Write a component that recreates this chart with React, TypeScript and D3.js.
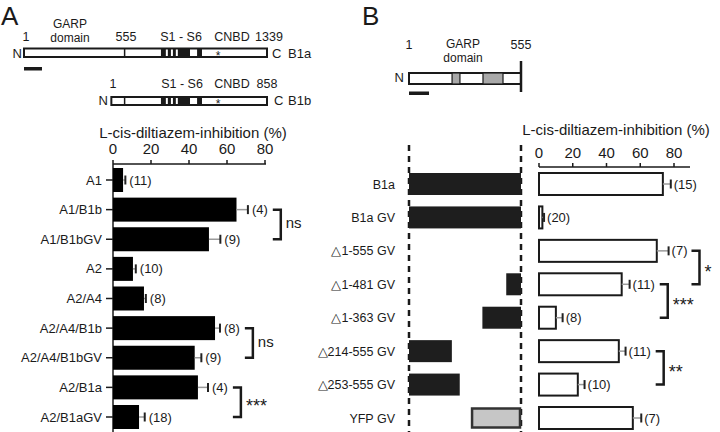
import React from "react";
import * as d3 from "d3";

// ---------- Panel A data ----------
const catsA = ["A1", "A1/B1b", "A1/B1bGV", "A2", "A2/A4", "A2/A4/B1b", "A2/A4/B1bGV", "A2/B1a", "A2/B1aGV"];
const valsA = [5.3, 65, 50.5, 10.5, 16.3, 53.7, 43, 44.7, 13.7];
const errA = [1.2, 6, 6, 1.5, 1, 2.6, 3.5, 5.3, 3];
const nA = [11, 4, 9, 10, 8, 8, 9, 4, 18];
const sigAFrom = ["A1/B1b", "A2/A4/B1b", "A2/B1a"];
const sigATo = ["A1/B1bGV", "A2/A4/B1bGV", "A2/B1aGV"];
const sigALabel = ["ns", "ns", "***"];
const ticks = [0, 20, 40, 60, 80];

// schematic of B1a / B1b (in B1a residue numbers)
const stripeFrom = [755, 793, 821, 848, 954];
const stripeTo = [782, 810, 837, 915, 981];
const b1bOffset = 481;

// ---------- Panel B data ----------
const catsB = ["B1a", "B1a GV", "\u25B31-555 GV", "\u25B31-481 GV", "\u25B31-363 GV", "\u25B3214-555 GV", "\u25B3253-555 GV", "YFP GV"];
const keptFrom = [1, 1, 0, 482, 364, 1, 1, 308];
const keptTo = [555, 555, 0, 555, 555, 213, 252, 555];
const keptKind = ["res", "res", "none", "res", "res", "res", "res", "yfp"];
const valsB = [73.4, 2, 69.8, 49, 10, 47.3, 23, 55.6];
const errB = [4.7, 1, 7, 4.7, 4, 4, 4, 5];
const nB = [15, 20, 7, 11, 8, 11, 10, 7];
const sigBFrom = ["\u25B31-555 GV", "\u25B31-481 GV", "\u25B3214-555 GV"];
const sigBTo = ["\u25B31-481 GV", "\u25B31-363 GV", "\u25B3253-555 GV"];
const sigBLabel = ["*", "***", "**"];
const garpFrom = [214, 367];
const garpTo = [253, 466];

const FONT = "'Liberation Sans', Arial, Helvetica, sans-serif";
const INK = "#1a1a1a";

function countWidth(s: string, size: number) {
  let w = 0;
  for (const ch of s) w += ch === "(" || ch === ")" ? 0.333 : 0.556;
  return w * size;
}

function ErrBar({ x0, x1, y }: { x0: number; x1: number; y: number }) {
  return (
    <g>
      <line x1={x0} x2={x1} y1={y} y2={y} stroke="#9a9a9a" strokeWidth={1.5} />
      <line x1={x1} x2={x1} y1={y - 4.5} y2={y + 4.5} stroke="#222" strokeWidth={2} />
    </g>
  );
}

function Bracket({ x, y0, y1, label }: { x: number; y0: number; y1: number; label: string }) {
  const arm = 8;
  const mid = (y0 + y1) / 2;
  const isStar = label.includes("*");
  return (
    <g>
      <path d={`M${x},${y0}H${x + arm}V${y1}H${x}`} fill="none" stroke={INK} strokeWidth={2.5} />
      <text x={x + arm + 5} y={isStar ? mid + 10 : mid + 4} fontSize={isStar ? 18 : 15} fill={INK} fontFamily={FONT}>
        {label}
      </text>
    </g>
  );
}

export default function App() {
  // ----- Panel A -----
  const xA = d3.scaleLinear().domain([0, 80]).range([113, 265]);
  const yA = d3.scalePoint<string>().domain(catsA).range([180, 417]);
  const barHA = 24;
  const axisYA = 164;
  const cntSize = 13;
  const labelEndA = catsA.map((c, i) => xA(valsA[i] + errA[i]) + 4 + countWidth(`(${nA[i]})`, cntSize));

  // schematic A
  const xP = d3.scaleLinear().domain([1, 1339]).range([24, 267]);

  // ----- Panel B -----
  const xRes = d3.scaleLinear().domain([1, 555]).range([409, 521]);
  const xB = d3.scaleLinear().domain([0, 80]).range([539, 674]);
  const yB = d3.scalePoint<string>().domain(catsB).range([184, 418]);
  const barHB = 22;
  const axisYB = 167;
  const labelEndB = catsB.map((c, i) => xB(valsB[i] + errB[i]) + 3 + countWidth(`(${nB[i]})`, cntSize));

  const txt = (x: number, y: number, s: string, size = 12.5, anchor = "middle") => (
    <text x={x} y={y} fontSize={size} textAnchor={anchor} fill={INK} fontFamily={FONT}>
      {s}
    </text>
  );

  const bracketsA = sigAFrom.map((f, k) => {
    const i0 = catsA.indexOf(f);
    const i1 = catsA.indexOf(sigATo[k]);
    const x = Math.max(labelEndA[i0], labelEndA[i1]) + 5;
    return <Bracket key={"ba" + k} x={x} y0={yA(f)!} y1={yA(sigATo[k])!} label={sigALabel[k]} />;
  });
  const bracketsB = sigBFrom.map((f, k) => {
    const i0 = catsB.indexOf(f);
    const i1 = catsB.indexOf(sigBTo[k]);
    const x = Math.max(labelEndB[i0], labelEndB[i1]) + 4;
    return <Bracket key={"bb" + k} x={x} y0={yB(f)!} y1={yB(sigBTo[k])!} label={sigBLabel[k]} />;
  });

  return (
    <svg width={720} height={432} style={{ position: "absolute", left: 0, top: 0, background: "#fff" }} fontFamily={FONT}>
      <rect width={720} height={432} fill="#fff" />
      {/* Panel labels */}
      {txt(1, 25, "A", 26, "start")}
      {txt(362, 25, "B", 26, "start")}

      {/* ===== Panel A schematics ===== */}
      {txt(26, 41, "1")}
      {txt(70, 27.5, "GARP", 12)}
      {txt(70, 41.5, "domain", 12)}
      {txt(126, 41, "555")}
      {txt(181, 41, "S1 - S6")}
      {txt(232, 41, "CNBD")}
      {txt(269, 41, "1339")}
      {txt(22, 57.5, "N", 13, "end")}
      {txt(272, 57.5, "C", 13, "start")}
      {txt(288, 57.5, "B1a", 13, "start")}
      <rect x={xP(1)} y={48.5} width={xP(1339) - xP(1)} height={8.5} fill="#fff" stroke={INK} strokeWidth={2} />
      <line x1={xP(555)} x2={xP(555)} y1={48.5} y2={57} stroke={INK} strokeWidth={1.5} />
      {stripeFrom.map((s, i) => (
        <rect key={"s1" + i} x={xP(s)} y={48.5} width={xP(stripeTo[i]) - xP(s)} height={8.5} fill={INK} />
      ))}
      {txt(xP(1069), 60, "*", 12)}
      <rect x={xP(1)} y={67} width={xP(100) - xP(1)} height={3.5} fill={INK} />

      {txt(113, 88, "1")}
      {txt(182, 88, "S1 - S6")}
      {txt(232, 88, "CNBD")}
      {txt(267, 88, "858")}
      {txt(108, 105, "N", 13, "end")}
      {txt(274, 105, "C", 13, "start")}
      {txt(288, 105, "B1b", 13, "start")}
      <rect x={xP(1 + b1bOffset)} y={97} width={xP(1339) - xP(1 + b1bOffset)} height={8} fill="#fff" stroke={INK} strokeWidth={2} />
      <line x1={xP(555)} x2={xP(555)} y1={97} y2={105} stroke={INK} strokeWidth={1.5} />
      {stripeFrom.map((s, i) => (
        <rect key={"s2" + i} x={xP(s)} y={97} width={xP(stripeTo[i]) - xP(s)} height={8} fill={INK} />
      ))}
      {txt(xP(1069), 108, "*", 12)}

      {/* ===== Panel A chart ===== */}
      {txt(193, 138, "L-cis-diltiazem-inhibition (%)", 15)}
      {ticks.map((t) => (
        <g key={"ta" + t}>
          {txt(xA(t), 154, String(t), 15)}
          <line x1={xA(t)} x2={xA(t)} y1={axisYA} y2={axisYA - 4} stroke={INK} strokeWidth={1.5} />
        </g>
      ))}
      <line x1={xA(0)} x2={xA(80) + 1} y1={axisYA} y2={axisYA} stroke={INK} strokeWidth={1.5} />
      <line x1={xA(0)} x2={xA(0)} y1={axisYA} y2={432} stroke={INK} strokeWidth={1.5} />
      {catsA.map((c, i) => {
        const y = yA(c)!;
        return (
          <g key={"ra" + c}>
            {txt(102, y + 4.5, c, 13, "end")}
            <line x1={106} x2={xA(0)} y1={y} y2={y} stroke={INK} strokeWidth={1.5} />
            <rect x={xA(0)} y={y - barHA / 2} width={xA(valsA[i]) - xA(0)} height={barHA} fill="#000" />
            <ErrBar x0={xA(valsA[i])} x1={xA(valsA[i] + errA[i])} y={y} />
            {txt(xA(valsA[i] + errA[i]) + 4, y + 4.5, `(${nA[i]})`, cntSize, "start")}
          </g>
        );
      })}
      {bracketsA}

      {/* ===== Panel B schematic ===== */}
      {txt(xRes(1), 49, "1")}
      {txt(463, 47.5, "GARP", 12)}
      {txt(463, 62, "domain", 12)}
      {txt(xRes(555), 49, "555")}
      {txt(404, 82, "N", 13, "end")}
      <rect x={xRes(1)} y={73} width={xRes(555) - xRes(1)} height={11} fill="#fff" stroke={INK} strokeWidth={2} />
      {garpFrom.map((g, i) => (
        <rect key={"g" + i} x={xRes(g)} y={73} width={xRes(garpTo[i]) - xRes(g)} height={11} fill="#a9a9a9" stroke={INK} strokeWidth={1.2} />
      ))}
      <line x1={xRes(555)} x2={xRes(555)} y1={61} y2={92} stroke={INK} strokeWidth={2.5} />
      <rect x={xRes(1)} y={91.5} width={xRes(100) - xRes(1)} height={3.5} fill={INK} />

      {/* dashed guide lines */}
      {[1, 555].map((r) => (
        <line key={"d" + r} x1={xRes(r)} x2={xRes(r)} y1={145} y2={432} stroke={INK} strokeWidth={2.5} strokeDasharray="6 5" />
      ))}

      {catsB.map((c, i) => {
        const y = yB(c)!;
        const kind = keptKind[i];
        return (
          <g key={"rb" + c}>
            {txt(395, y + 4.5, c, 12.5, "end")}
            {kind === "res" && (
              <rect x={xRes(keptFrom[i])} y={y - barHB / 2} width={xRes(keptTo[i]) - xRes(keptFrom[i])} height={barHB} fill="#1e1e1e" />
            )}
            {kind === "yfp" && (
              <rect x={xRes(keptFrom[i]) + 1} y={y - 9.5} width={xRes(keptTo[i]) - xRes(keptFrom[i]) - 2} height={19} fill="#c6c6c6" stroke="#333" strokeWidth={2.5} />
            )}
          </g>
        );
      })}

      {/* ===== Panel B chart ===== */}
      {txt(616, 135, "L-cis-diltiazem-inhibition (%)", 15)}
      {ticks.map((t) => (
        <g key={"tb" + t}>
          {txt(xB(t), 158, String(t), 15)}
          <line x1={xB(t)} x2={xB(t)} y1={axisYB} y2={axisYB - 4} stroke={INK} strokeWidth={1.5} />
        </g>
      ))}
      <line x1={xB(0)} x2={xB(89.5)} y1={axisYB} y2={axisYB} stroke={INK} strokeWidth={1.5} />
      {catsB.map((c, i) => {
        const y = yB(c)!;
        return (
          <g key={"bb" + c}>
            <rect x={xB(0)} y={y - barHB / 2} width={Math.max(xB(valsB[i]) - xB(0), 1)} height={barHB} fill="#fff" stroke={INK} strokeWidth={2} />
            <ErrBar x0={xB(valsB[i])} x1={xB(valsB[i] + errB[i])} y={y} />
            {txt(xB(valsB[i] + errB[i]) + 3, y + 4.5, `(${nB[i]})`, cntSize, "start")}
          </g>
        );
      })}
      {bracketsB}
    </svg>
  );
}
